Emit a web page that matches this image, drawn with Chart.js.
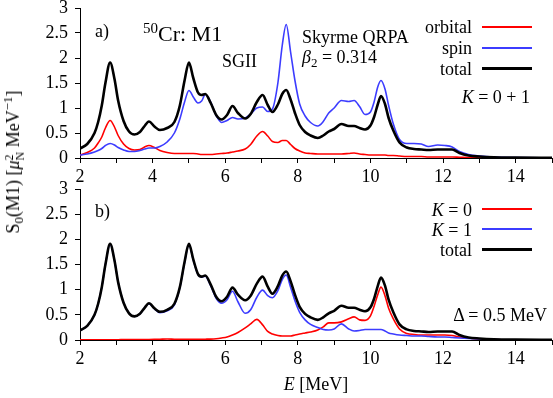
<!DOCTYPE html>
<html>
<head>
<meta charset="utf-8">
<script src="https://cdn.jsdelivr.net/npm/chart.js@4.4.0/dist/chart.umd.min.js"></script>
<style>
  html, body { margin: 0; padding: 0; background: #fff; }
  #wrap { position: relative; width: 553px; height: 398px; overflow: hidden; background: #fff; }
  canvas { position: absolute; left: 0; top: 0; }
  .t { position: absolute; font-family: 'Liberation Serif', 'Times New Roman', serif; font-size: 18px; line-height: 18px; white-space: nowrap; color: #000; }
  .ln { position: absolute; left: 482px; width: 50px; }
</style>
</head>
<body>
<div id="wrap">
  <canvas id="cTop" width="553" height="398"></canvas>
  <canvas id="cBot" width="553" height="398"></canvas>

  <div class="t" style="left:95px;top:22px">a)</div>
  <div class="t" style="left:143px;top:23px;font-size:22px;line-height:22px"><span style="font-size:15px;position:relative;top:-8px">50</span>Cr: M1</div>
  <div class="t" style="left:222px;top:52px">SGII</div>
  <div class="t" style="left:302px;top:28px">Skyrme QRPA</div>
  <div class="t" style="left:302px;top:48px"><i>β</i><span style="font-size:13px;position:relative;top:4px">2</span> = 0.314</div>

  <div class="t" style="right:81px;top:18px">orbital</div>
  <div class="ln" style="top:26px;height:2px;background:#ff0000"></div>
  <div class="t" style="right:81px;top:39px">spin</div>
  <div class="ln" style="top:47px;height:2px;background:#3c3cff"></div>
  <div class="t" style="right:81px;top:60px">total</div>
  <div class="ln" style="top:67px;height:3px;background:#000"></div>
  <div class="t" style="right:23px;top:88px"><i>K</i> = 0 + 1</div>

  <div class="t" style="left:95px;top:202px">b)</div>
  <div class="t" style="right:81px;top:201px"><i>K</i> = 0</div>
  <div class="ln" style="top:208px;height:2px;background:#ff0000"></div>
  <div class="t" style="right:81px;top:221px"><i>K</i> = 1</div>
  <div class="ln" style="top:228px;height:2px;background:#3c3cff"></div>
  <div class="t" style="right:81px;top:241px">total</div>
  <div class="ln" style="top:248px;height:3px;background:#000"></div>
  <div class="t" style="right:6px;top:306px">Δ = 0.5 MeV</div>

  <div class="t" style="left:316px;top:375px;transform:translateX(-50%)"><i>E</i> [MeV]</div>
  <div class="t" style="left:15px;top:162px;transform:translate(-50%,-50%) rotate(-90deg)">S<span style="font-size:13px;position:relative;top:4px">0</span>(M1) [<i>μ</i><span style="display:inline-block;font-size:12px;line-height:11px;vertical-align:-5px;text-align:left"><span style="display:block">2</span><span style="display:block">N</span></span> MeV<span style="font-size:13px;position:relative;top:-7px">−1</span>]</div>
</div>

<script>
// ---- data ----
const energies = [2.0, 2.2, 2.4, 2.5, 2.6, 2.7, 2.83, 2.95, 3.05, 3.2,
  3.35, 3.5, 3.65, 3.78, 3.9, 4.05, 4.2, 4.4, 4.6, 4.75,
  4.88, 5.0, 5.12, 5.25, 5.35, 5.45, 5.6, 5.75, 5.9, 6.05,
  6.2, 6.35, 6.55, 6.7, 6.87, 7.03, 7.17, 7.3, 7.45, 7.57,
  7.68, 7.8, 7.92, 8.05, 8.2, 8.35, 8.55, 8.7, 8.85, 9.0,
  9.2, 9.4, 9.55, 9.7, 9.85, 10.0, 10.1, 10.2, 10.29, 10.4,
  10.5, 10.63, 10.8, 11.0, 11.2, 11.4, 11.6, 11.85, 12.05, 12.25,
  12.45, 12.7, 13.0, 13.4, 14.0, 15.0];

const totalValues = [0.19, 0.28, 0.50, 0.72, 1.05, 1.50, 1.91, 1.58, 1.15, 0.74,
  0.53, 0.47, 0.52, 0.64, 0.73, 0.63, 0.56, 0.60, 0.72, 1.05,
  1.55, 1.91, 1.60, 1.31, 1.26, 1.28, 1.10, 0.86, 0.77, 0.86,
  1.04, 0.90, 0.79, 0.88, 1.12, 1.26, 1.06, 0.92, 1.07, 1.28,
  1.36, 1.17, 0.90, 0.66, 0.52, 0.45, 0.40, 0.45, 0.53, 0.58,
  0.68, 0.64, 0.64, 0.60, 0.57, 0.65, 0.82, 1.07, 1.24, 1.08,
  0.80, 0.55, 0.31, 0.21, 0.18, 0.17, 0.16, 0.17, 0.17, 0.17,
  0.10, 0.05, 0.03, 0.015, 0.008, 0.004];

const spinValues = [0.06, 0.08, 0.12, 0.15, 0.19, 0.25, 0.29, 0.26, 0.21, 0.16,
  0.13, 0.13, 0.15, 0.18, 0.20, 0.20, 0.23, 0.32, 0.50, 0.78,
  1.12, 1.35, 1.22, 1.10, 1.14, 1.27, 1.12, 0.85, 0.71, 0.75,
  0.81, 0.78, 0.80, 0.88, 1.00, 1.02, 0.93, 0.98, 1.50, 2.25,
  2.67, 2.12, 1.55, 1.08, 0.84, 0.71, 0.64, 0.73, 0.90, 1.00,
  1.15, 1.13, 1.15, 1.03, 0.87, 0.92, 1.12, 1.42, 1.55, 1.38,
  1.05, 0.68, 0.37, 0.29, 0.29, 0.28, 0.23, 0.26, 0.25, 0.22,
  0.13, 0.07, 0.04, 0.02, 0.01, 0.005];

const orbitalValues = [0.06, 0.11, 0.20, 0.30, 0.42, 0.60, 0.75, 0.62, 0.45, 0.28,
  0.19, 0.16, 0.17, 0.22, 0.25, 0.21, 0.15, 0.11, 0.09, 0.09,
  0.09, 0.09, 0.09, 0.08, 0.07, 0.07, 0.07, 0.08, 0.09, 0.10,
  0.12, 0.14, 0.18, 0.27, 0.44, 0.53, 0.44, 0.33, 0.31, 0.35,
  0.35, 0.27, 0.19, 0.14, 0.10, 0.09, 0.08, 0.08, 0.08, 0.08,
  0.08, 0.09, 0.10, 0.08, 0.07, 0.06, 0.06, 0.06, 0.06, 0.06,
  0.05, 0.05, 0.04, 0.03, 0.03, 0.03, 0.02, 0.02, 0.02, 0.02,
  0.015, 0.01, 0.01, 0.005, 0.003, 0.002];

const k1Values = [0.19, 0.28, 0.50, 0.72, 1.05, 1.50, 1.91, 1.58, 1.15, 0.74,
  0.53, 0.47, 0.52, 0.64, 0.72, 0.62, 0.54, 0.58, 0.70, 1.04,
  1.54, 1.90, 1.59, 1.30, 1.25, 1.27, 1.08, 0.83, 0.73, 0.80,
  0.97, 0.76, 0.53, 0.60, 0.85, 0.99, 0.88, 0.84, 0.98, 1.20,
  1.29, 1.05, 0.78, 0.55, 0.40, 0.31, 0.25, 0.21, 0.20, 0.22,
  0.32, 0.22, 0.18, 0.19, 0.21, 0.21, 0.21, 0.21, 0.21, 0.18,
  0.14, 0.12, 0.10, 0.09, 0.08, 0.08, 0.07, 0.06, 0.06, 0.05,
  0.04, 0.03, 0.02, 0.01, 0.005, 0.003];

const k0Values = [0.005, 0.005, 0.005, 0.005, 0.005, 0.006, 0.006, 0.006, 0.006, 0.007,
  0.007, 0.008, 0.008, 0.009, 0.01, 0.012, 0.015, 0.02, 0.015, 0.013,
  0.013, 0.013, 0.013, 0.014, 0.015, 0.016, 0.018, 0.025, 0.04, 0.06,
  0.10, 0.15, 0.24, 0.32, 0.41, 0.30, 0.17, 0.12, 0.09, 0.08,
  0.08, 0.08, 0.10, 0.12, 0.14, 0.16, 0.20, 0.26, 0.34, 0.34,
  0.36, 0.42, 0.46, 0.40, 0.39, 0.48, 0.67, 0.90, 1.05, 0.88,
  0.63, 0.42, 0.22, 0.13, 0.11, 0.10, 0.10, 0.10, 0.10, 0.09,
  0.06, 0.04, 0.02, 0.01, 0.005, 0.003];

const xTickValues = [2, 3, 4, 5, 6, 7, 8, 9, 10, 11, 12, 13, 14, 15];
const xTickLabels = ['2', '', '4', '', '6', '', '8', '', '10', '', '12', '', '14', ''];
const yTickValues = [0, 0.5, 1, 1.5, 2, 2.5, 3];
const yTickLabels = ['0', '0.5', '1', '1.5', '2', '2.5', '3'];

// ---- drawing ----
const FONT = "'Liberation Serif', 'Times New Roman', serif";
const RED = '#ff0000', BLUE = '#3c3cff', BLACK = '#000000';

function series(vals, color, width, order) {
  return {
    data: energies.map((e, i) => ({ x: e, y: vals[i] })),
    borderColor: color,
    borderWidth: width,
    pointRadius: 0,
    fill: false,
    order: order,
    cubicInterpolationMode: 'monotone'
  };
}

function makeChart(id, datasets, padTop, padBottom) {
  return new Chart(document.getElementById(id), {
    type: 'line',
    data: { datasets },
    options: {
      responsive: false,
      animation: false,
      devicePixelRatio: 1,
      layout: { padding: { top: padTop, bottom: padBottom, left: 0, right: 1 } },
      plugins: { legend: { display: false }, tooltip: { enabled: false } },
      scales: {
        x: {
          type: 'linear', min: 2, max: 15,
          border: { display: true, color: BLACK, width: 1 },
          grid: { display: true, drawOnChartArea: false, drawTicks: true, tickLength: 5, color: BLACK, tickWidth: 1 },
          afterBuildTicks: (s) => { s.ticks = xTickValues.map(v => ({ value: v })); },
          ticks: {
            autoSkip: false, maxRotation: 0, minRotation: 0, padding: 5, color: BLACK,
            font: { family: FONT, size: 18, lineHeight: 1 },
            callback: (v, i) => xTickLabels[i]
          },
          afterFit: (s) => { s.height = 32; s.paddingLeft = 0; s.paddingRight = 0; }
        },
        y: {
          min: 0, max: 3,
          border: { display: true, color: BLACK, width: 1 },
          grid: { display: true, drawOnChartArea: false, drawTicks: true, tickLength: 5, color: BLACK, tickWidth: 1 },
          ticks: {
            stepSize: 0.5, autoSkip: false, autoSkipPadding: 0, padding: 7, color: BLACK,
            font: { family: FONT, size: 18, lineHeight: 0.8 },
            callback: (v) => { const i = Math.round(v * 2); return yTickLabels[i] !== undefined ? yTickLabels[i] : ''; }
          },
          afterFit: (s) => {
            s.width = 80; s.paddingTop = 0; s.paddingBottom = 0;
            // keep every half-unit tick and its label, even if auto-skipping removed some
            s.ticks = yTickValues.map((v, i) => ({ value: v, label: yTickLabels[i] }));
            s._labelSizes = null;
            s._labelItems = null;
          }
        }
      }
    }
  });
}

makeChart('cTop', [
  series(orbitalValues, RED, 1.6, 2),
  series(spinValues, BLUE, 1.6, 1),
  series(totalValues, BLACK, 2.6, 0)
], 8, 208);

makeChart('cBot', [
  series(k0Values, RED, 1.6, 2),
  series(k1Values, BLUE, 1.6, 1),
  series(totalValues, BLACK, 2.6, 0)
], 189, 26);
</script>
</body>
</html>
